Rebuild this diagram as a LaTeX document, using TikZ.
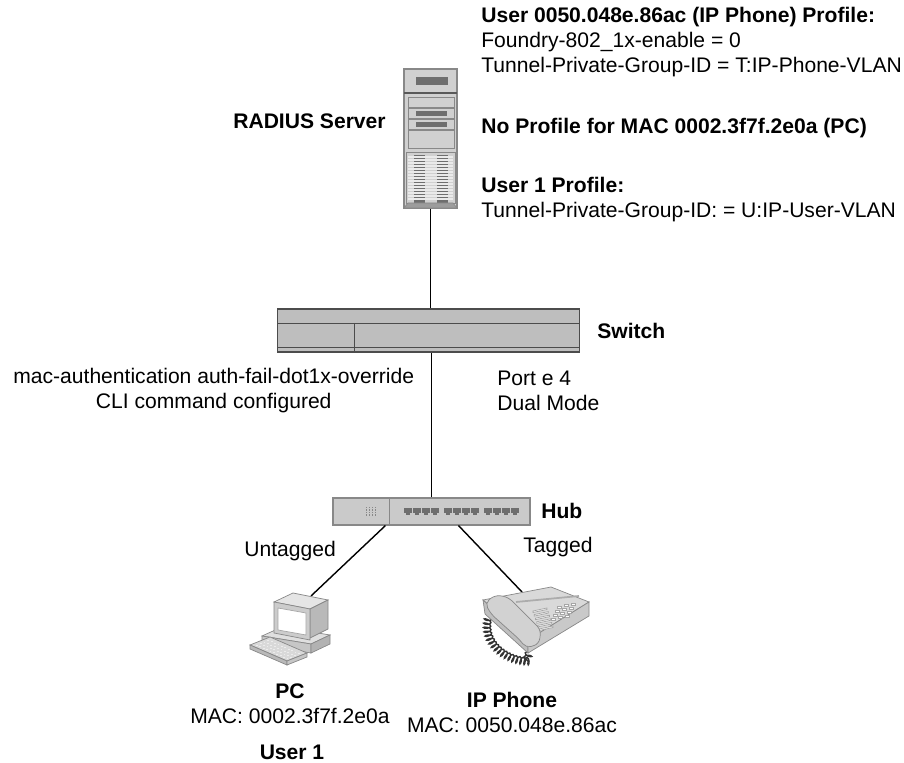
\documentclass[tikz,border=0pt]{standalone}
\usepackage{fontspec}
\setmainfont{Liberation Sans}
\usetikzlibrary{decorations.pathmorphing}

\definecolor{panel}{HTML}{D0D0D0}
\definecolor{slot}{HTML}{6E6E6E}
\definecolor{edgegray}{HTML}{888888}
\definecolor{swgray}{HTML}{BEBEBE}
\definecolor{hubgray}{HTML}{CACACA}
\newcommand\lblfont{\fontsize{12}{14.2}\selectfont}

\tikzset{
  device/.style={draw=edgegray, inner sep=0pt, line width=0.6pt},
  link/.style={draw=black, line width=0.8pt},
  lbl/.style={inner sep=0pt, font=\lblfont},
  bold/.style={inner sep=0pt, font=\lblfont\bfseries},
}

\begin{document}
\begin{tikzpicture}[x=0.02cm, y=-0.02cm]
\useasboundingbox (0,0) rectangle (904,763);

% RADIUS server tower
\node[device, fill=panel, minimum width=1.06cm, minimum height=2.78cm] (server) at (430.5,138.5) {};
\fill[slot] (416,77) rectangle (448,85);
\draw[black!65, line width=1pt] (404,93) -- (457,93);
\foreach \y/\h in {97/10,108/10,119/10,130/18}
  \draw[edgegray, fill=panel] (408,\y) rectangle +(46,\h);
\foreach \y in {111,122}
  \fill[slot] (416,\y) rectangle +(31,5);
\draw[edgegray] (406,152) rectangle (455,203);
\foreach \x in {414,437}
  \fill[slot] (\x,155) rectangle +(11,48);
\foreach \y in {157,160,...,201}
  \draw[white!55!panel, line width=0.6pt] (408,\y) -- (453,\y);
\draw[edgegray, fill=panel!75!black] (404,208) -- (408,203) -- (453,203) -- (457,208) -- cycle;

% switch
\node[device, draw=black!70, fill=swgray, minimum width=6.06cm, minimum height=0.86cm] (switch) at (428.5,330.5) {};
\draw[black!70] (277,323) -- (580,323) (277,347) -- (580,347) (354,323) -- (354,352);

% hub with three groups of ports
\node[device, fill=hubgray, minimum width=3.94cm, minimum height=0.54cm] (hub) at (431.5,511.5) {};
\draw[edgegray] (389,498) -- (389,525);
\foreach \i in {0,...,3}
  \foreach \j in {0,...,3}
    \fill[edgegray] (366+3*\i,507+2.5*\j) rectangle +(1.2,1.2);
\foreach \g in {404,444,484}
  \foreach \p in {0,...,3} {
    \fill[slot] (\g+\p*9,508) rectangle +(8,5);
    \fill[slot] (\g+\p*9+2,513) rectangle +(4,2);
  }

\coordinate (pc) at (311,596);
\coordinate (phone) at (522,592);

% links
\draw[link] (server.south) -- (server.south |- switch.north);
\draw[link] (hub.north) -- (hub.north |- switch.south);
\draw[link] ([xshift=1.06cm]hub.south west) -- (pc);
\draw[link] ([xshift=2.52cm]hub.south west) -- (phone);

% PC: system unit, monitor, keyboard
\draw[edgegray, fill=gray!25] (262,636) -- (282,627) -- (330,635) -- (311,644) -- cycle;
\draw[edgegray, fill=gray!45] (262,636) -- (311,644) -- (311,653) -- (262,645) -- cycle;
\draw[edgegray, fill=gray!60] (311,644) -- (330,635) -- (330,644) -- (311,653) -- cycle;
\draw[gray!80] (266,640) -- (284,643);
\draw[edgegray, fill=gray!20] (274,602) -- (293,593) -- (328,600) -- (310,609) -- cycle;
\draw[edgegray, fill=gray!55] (310,609) -- (328,600) -- (328,629) -- (310,638) -- cycle;
\draw[edgegray, fill=gray!40] (274,602) -- (310,609) -- (310,640) -- (274,633) -- cycle;
\draw[gray!70, fill=white] (278,608) -- (306,613) -- (306,635) -- (278,630) -- cycle;
\draw[edgegray, fill=gray!30] (250,645) -- (270,637) -- (307,653) -- (287,661) -- cycle;
\draw[edgegray, fill=gray!55] (250,645) -- (287,661) -- (287,665) -- (250,649) -- cycle;
\draw[edgegray, fill=gray!45] (287,661) -- (307,653) -- (307,657) -- (287,665) -- cycle;
\foreach \i in {0,...,9}
  \foreach \j in {0,...,3}
    \fill[white!85!gray] (256+\i*3.4+\j*3.8,645+\i*1.5-\j*1.7) rectangle +(1.8,1);

% IP phone: cord, body, keys, handset
\draw[black!80, line width=0.8pt, decorate, decoration={coil, aspect=0.4, segment length=2.2pt, amplitude=2pt}]
  (489,616) .. controls (481,640) and (503,660) .. (527,661) -- (530,648);
\draw[edgegray, fill=gray!30] (483,600) -- (551,587) -- (589,602) -- (528,640) -- cycle;
\draw[edgegray, fill=gray!50] (483,600) -- (528,640) -- (528,653) -- (485,614) -- cycle;
\draw[edgegray, fill=gray!42] (528,640) -- (589,602) -- (589,616) -- (528,653) -- cycle;
\draw[gray!65, line width=1pt] (516,602) -- (579,596);
\foreach \i in {0,1,2}
  \foreach \j in {0,...,3}
    \draw[gray!70, fill=white] (557+\i*7-\j*2,606+\j*4-\i*1.5) rectangle +(4,2);
\foreach \j in {0,...,5}
  \draw[gray!70, fill=white] (533+\j*1.2,611+\j*3.6) -- +(14,-3) -- +(14,-1.5) -- +(0,1.5) -- cycle;
\draw[edgegray, fill=gray!35, rounded corners=3] (485,603) -- (495,595) -- (508,597) -- (541,630)
  -- (539,644) -- (526,648) -- (520,640) -- (491,614) -- cycle;

% labels
\node[lbl, anchor=west, align=left] (phoneprof) at (481,42)
  {\textbf{User 0050.048e.86ac (IP Phone) Profile:}\\Foundry-802\_1x-enable = 0\\Tunnel-Private-Group-ID = T:IP-Phone-VLAN};
\node[bold, anchor=east] (radius) at (386,121) {RADIUS Server};
\node[bold, anchor=west] (noprof) at (481,128) {No Profile for MAC 0002.3f7f.2e0a (PC)};
\node[lbl, anchor=west, align=left] (userprof) at (481,199.5)
  {\textbf{User 1 Profile:}\\Tunnel-Private-Group-ID: = U:IP-User-VLAN};
\node[bold, anchor=west] (swlbl) at (597,331) {Switch};
\node[lbl, anchor=west, align=center] (cli) at (13,390.5)
  {mac-authentication auth-fail-dot1x-override\\CLI command configured};
\node[lbl, anchor=west, align=left] (port) at (497,390.5) {Port e 4\\Dual Mode};
\node[bold, anchor=west] (hublbl) at (541,511) {Hub};
\node[lbl, anchor=west] (untag) at (244,551) {Untagged};
\node[lbl, anchor=west] (tag) at (523,547) {Tagged};
\node[lbl, align=center] (pclbl) at (290,704) {\textbf{PC}\\MAC: 0002.3f7f.2e0a};
\node[bold] (user) at (292,752) {User 1};
\node[lbl, align=center] (phonelbl) at (512,712) {\textbf{IP Phone}\\MAC: 0050.048e.86ac};

\end{tikzpicture}
\end{document}
